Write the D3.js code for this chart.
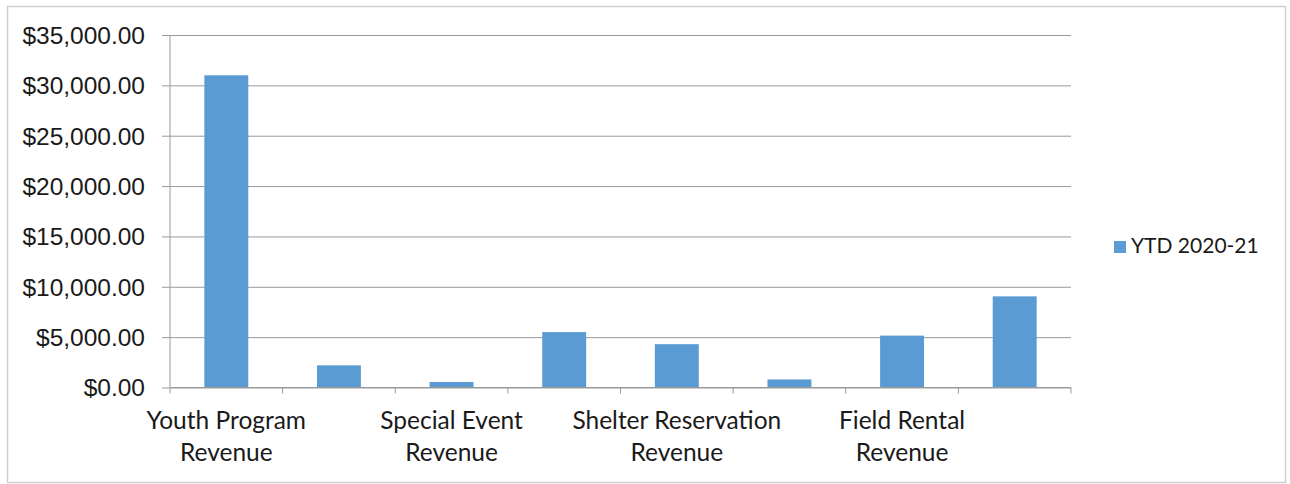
<!DOCTYPE html>
<html>
<head>
<meta charset="utf-8">
<script src="https://cdn.jsdelivr.net/npm/d3@7"></script>
<style>
  html, body { margin: 0; padding: 0; background: #fff; }
  svg { display: block; font-family: Lato, "Open Sans", sans-serif; }
</style>
</head>
<body>
<svg id="chart" width="1290" height="484"></svg>
<script>
// Revenue categories (only every other label fits on the axis, as in the spreadsheet view)
const categories = [
  "Youth Program Revenue", "",
  "Special Event Revenue", "",
  "Shelter Reservation Revenue", "",
  "Field Rental Revenue", ""
];
const seriesName = "YTD 2020-21";
const ytdValues = [31000, 2200, 550, 5500, 4300, 800, 5150, 9050];
const yTicks = [0, 5000, 10000, 15000, 20000, 25000, 30000, 35000];

const svg = d3.select("#chart");
const plot = { left: 170, right: 1071, top: 35, bottom: 387.5 };
const barColor = "#5a9bd3";
const gridColor = "#9a9a9a";
const textColor = "#1a1a1a";
const axisFont = 24.5;

// outer chart frame
svg.append("rect")
  .attr("x", 7.5).attr("y", 6.5)
  .attr("width", 1278).attr("height", 476)
  .attr("fill", "#fff")
  .attr("stroke", "#cfcfcf").attr("stroke-width", 1.5);

const x = d3.scaleBand()
  .domain(d3.range(categories.length))
  .range([plot.left, plot.right])
  .padding(0);

const y = d3.scaleLinear()
  .domain([0, 35000])
  .range([plot.bottom, plot.top]);

const money = d3.format("$,.2f");

// horizontal gridlines + value axis labels
const yAxis = d3.axisLeft(y)
  .tickValues(yTicks)
  .tickFormat(money)
  .tickSize(-(plot.right - plot.left))
  .tickPadding(25);

const gy = svg.append("g")
  .attr("transform", `translate(${plot.left},0)`)
  .call(yAxis);
gy.select(".domain").remove();
gy.selectAll(".tick line")
  .attr("stroke", gridColor)
  .attr("stroke-width", 1)
  .attr("x1", -8);
gy.selectAll(".tick text")
  .attr("fill", textColor)
  .attr("font-size", axisFont)
  .attr("dy", "0.34em");

// vertical value axis line
svg.append("line")
  .attr("x1", plot.left).attr("x2", plot.left)
  .attr("y1", plot.top).attr("y2", plot.bottom)
  .attr("stroke", gridColor).attr("stroke-width", 1);

// bars
const barW = x.bandwidth() * 0.39;
svg.append("g")
  .selectAll("rect")
  .data(ytdValues)
  .join("rect")
  .attr("x", (d, i) => x(i) + (x.bandwidth() - barW) / 2)
  .attr("y", d => y(d))
  .attr("width", barW)
  .attr("height", d => y(0) - y(d))
  .attr("fill", barColor);

// category axis: baseline and tick marks at band boundaries
svg.append("line")
  .attr("x1", plot.left).attr("x2", plot.right)
  .attr("y1", y(0)).attr("y2", y(0))
  .attr("stroke", gridColor).attr("stroke-width", 1);

const boundaries = d3.range(categories.length).map(i => x(i)).concat([plot.right]);
svg.append("g")
  .selectAll("line")
  .data(boundaries)
  .join("line")
  .attr("x1", d => d).attr("x2", d => d)
  .attr("y1", y(0)).attr("y2", y(0) + 6)
  .attr("stroke", gridColor).attr("stroke-width", 1);

// category labels, wrapped onto two lines
const wrap = name => {
  const words = name.split(" ");
  const last = words.pop();
  return [words.join(" "), last];
};
const labels = svg.append("g")
  .selectAll("text")
  .data(categories.map((c, i) => ({ c, i })).filter(d => d.c))
  .join("text")
  .attr("text-anchor", "middle")
  .attr("fill", textColor)
  .attr("font-size", axisFont)
  .attr("x", d => x(d.i) + x.bandwidth() / 2)
  .attr("y", 429);
labels.selectAll("tspan")
  .data(d => wrap(d.c).map(t => ({ t, cx: x(d.i) + x.bandwidth() / 2 })))
  .join("tspan")
  .attr("x", d => d.cx)
  .attr("dy", (d, k) => k === 0 ? 0 : 32)
  .text(d => d.t);

// legend
const legend = svg.append("g").attr("transform", "translate(1114,241)");
legend.append("rect")
  .attr("width", 12).attr("height", 12)
  .attr("fill", barColor);
legend.append("text")
  .attr("x", 17).attr("y", 12)
  .attr("fill", textColor)
  .attr("font-size", 21)
  .text(seriesName);
</script>
</body>
</html>
